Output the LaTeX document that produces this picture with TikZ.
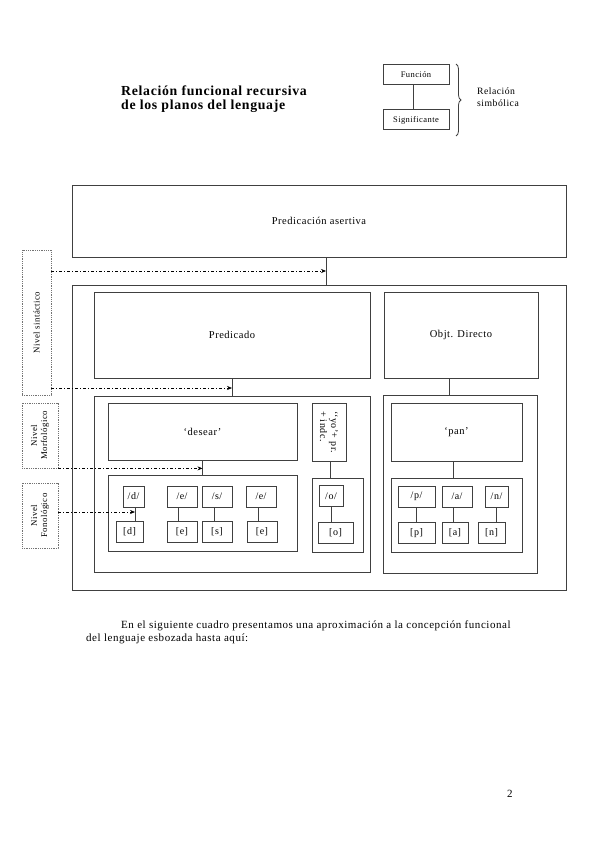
\documentclass[tikz,border=0pt]{standalone}
\usepackage{fontspec}
\setmainfont{Liberation Serif}[LetterSpace=5]
\usetikzlibrary{arrows.meta,decorations.pathreplacing,calc}
\begin{document}
\begin{tikzpicture}[x=1pt,y=-1pt,
 box/.style={draw=black!75, line width=1pt, inner sep=0pt, font=\fontsize{10.5}{11}\selectfont},
 ph/.style={box, minimum height=21, font=\fontsize{10}{11}\selectfont},
 lvl/.style={draw=black!55, densely dotted, line width=0.8pt, inner sep=0pt, align=center, font=\fontsize{8.8}{10}\selectfont},
 conn/.style={draw=black!75, line width=1pt},
 dd/.style={draw=black, line width=0.6pt, dash pattern=on 3pt off 2pt on 1pt off 2pt, -{Stealth[length=5pt,width=4pt]}},
 txt/.style={inner sep=0pt, align=left}]
\useasboundingbox (0,0) rectangle (599,848);

% title
\node[txt, anchor=north west, font=\bfseries\fontsize{13.8}{14}\selectfont] (title) at (121,86) {Relación funcional recursiva\\de los planos del lenguaje};

% legend
\node[box, minimum width=66, minimum height=20, font=\fontsize{8.5}{9}\selectfont] (fun) at (416,75) {Función};
\node[box, minimum width=66, minimum height=20, font=\fontsize{8.5}{9}\selectfont] (sig) at (416,120) {Significante};
\draw[conn] (fun.south -| 413,0) -- (sig.north -| 413,0);
\draw[black!75, line width=0.8pt, decorate, decoration={brace, amplitude=5pt}] (456,64) -- (456,136);
\node[txt, anchor=west, font=\fontsize{9.7}{12}\selectfont] (rs) at (477,97) {Relación\\simbólica};

% main boxes
\node[box, minimum width=494, minimum height=72] (pa) at (319,221) {Predicación asertiva};
\node[box, minimum width=494, minimum height=305] (outer) at (319,437.5) {};
\node[box, minimum width=276, minimum height=86] (pred) at (232,335) {Predicado};
\node[box, minimum width=154, minimum height=86] (obj) at (461,335) {Objt. Directo};
\node[box, minimum width=276, minimum height=176] (predin) at (232,484) {};
\node[box, minimum width=154, minimum height=178] (objin) at (460,484) {};
\node[box, minimum width=189, minimum height=57] (desear) at (202.5,431.5) {‘desear’};
\node[box, minimum width=189, minimum height=76] (desph) at (202.5,513) {};
\node[box, minimum width=34, minimum height=58] (yo) at (329,432) {};
\node[txt, rotate=-90, align=left, font=\fontsize{10}{11}\selectfont] (yot) at (329,432) {‘‘yo’+ pr.\\+ indc.};
\node[box, minimum width=51, minimum height=74] (yoph) at (337.5,515) {};
\node[box, minimum width=131, minimum height=58] (pan) at (456.5,432) {‘pan’};
\node[box, minimum width=131, minimum height=74] (panph) at (456.5,515) {};

% connectors
\draw[conn] ([xshift=7]pa.south) -- ([xshift=7]pa.south |- outer.north) coordinate (c1);
\draw[conn] (pred.south) -- (predin.north);
\draw[conn] ([xshift=-12]obj.south) -- ([xshift=-12]obj.south |- objin.north);
\draw[conn] (desear.south) -- (desph.north);
\draw[conn] ([xshift=1]yo.south) -- ([xshift=1]yo.south |- yoph.north);
\draw[conn] ([xshift=-3]pan.south) -- ([xshift=-3]pan.south |- panph.north);

% phonemes
\node[ph, minimum width=21] (p1) at (133.5,496.5) {/d/};
\node[ph, minimum width=27] (a1) at (129.5,532) {[d]};
\node[ph, minimum width=30] (p2) at (182,496.5) {/e/};
\node[ph, minimum width=30] (a2) at (182,532) {[e]};
\node[ph, minimum width=30] (p3) at (217,496.5) {/s/};
\node[ph, minimum width=30] (a3) at (217,532) {[s]};
\node[ph, minimum width=30] (p4) at (261,496.5) {/e/};
\node[ph, minimum width=30] (a4) at (262,532) {[e]};
\node[ph, minimum width=24] (p5) at (331,496) {/o/};
\node[ph, minimum width=35] (a5) at (335.5,533) {[o]};
\node[ph, minimum width=37] (p6) at (416.5,496.5) {/p/};
\node[ph, minimum width=37] (a6) at (416.5,533) {[p]};
\node[ph, minimum width=30] (p7) at (457,496.5) {/a/};
\node[ph, minimum width=26] (a7) at (455,533) {[a]};
\node[ph, minimum width=23] (p8) at (496.5,496.5) {/n/};
\node[ph, minimum width=27] (a8) at (491.5,533) {[n]};
\draw[conn] ([xshift=1.5]p1.south) -- ([xshift=1.5]p1.south |- a1.north) coordinate (d1);
\foreach \i/\s in {2/-4,3/-3,4/-3,5/0,6/0,7/-4,8/0}{
  \draw[conn] ([xshift=\s]p\i.south) -- ([xshift=\s]p\i.south |- a\i.north);
}

% levels
\node[lvl, minimum width=29, minimum height=145] (sint) at (36.5,322.5) {};
\node[lvl, rotate=90, draw=none] at (sint.center) {Nivel sintáctico};
\node[lvl, minimum width=36, minimum height=65] (morf) at (40,435.5) {};
\node[lvl, rotate=90, draw=none] at (morf.center) {Nivel\\Morfológico};
\node[lvl, minimum width=36, minimum height=65] (fon) at (40,515.5) {};
\node[lvl, rotate=90, draw=none] at (fon.center) {Nivel\\Fonológico};

\draw[dd] (sint.east |- 0,271) -- (c1 |- 0,271);
\draw[dd] (sint.east |- 0,388) -- (pred.south |- 0,388);
\draw[dd] (morf.south east) -- (desear.south |- morf.south);
\draw[dd] (fon.east |- 0,512) -- (d1 |- 0,512);

% body text
\node[txt, anchor=base west, font=\fontsize{11}{12}\selectfont] (l1) at (121,628) {En el siguiente cuadro presentamos una aproximación a la concepción funcional};
\node[txt, anchor=base west, font=\fontsize{11}{12}\selectfont] (l2) at (86,641) {del lenguaje esbozada hasta aquí:};
\node[txt, anchor=base west, font=\fontsize{11}{12}\selectfont] (pg) at (507,797) {2};
\end{tikzpicture}
\end{document}
